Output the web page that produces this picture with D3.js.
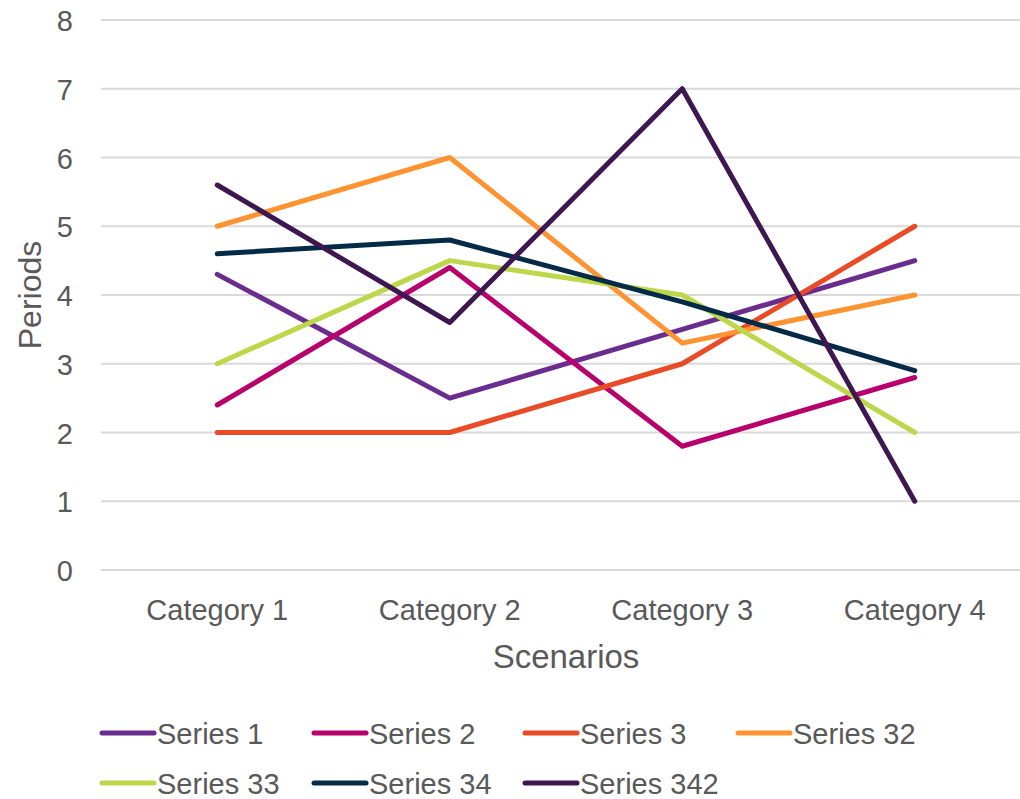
<!DOCTYPE html>
<html>
<head>
<meta charset="utf-8">
<script src="https://cdn.jsdelivr.net/npm/d3@7"></script>
<style>
  body { margin: 0; background: #fff; }
  text { font-family: "Liberation Sans", Arial, sans-serif; fill: #595959; }
</style>
</head>
<body>
<div id="viz-container"></div>
<script>
let width = 1020;
let height = 799;

let categories = ['Category 1', 'Category 2', 'Category 3', 'Category 4'];
let seriesNames = ['Series 1', 'Series 2', 'Series 3', 'Series 32', 'Series 33', 'Series 34', 'Series 342'];
let seriesColors = ['#6A2C8E', '#B8006D', '#E94B26', '#FF9331', '#BDD74B', '#032B47', '#3D1750'];
let s1 = [4.3, 2.5, 3.5, 4.5];
let s2 = [2.4, 4.4, 1.8, 2.8];
let s3 = [2, 2, 3, 5];
let s32 = [5, 6, 3.3, 4];
let s33 = [3, 4.5, 4, 2];
let s34 = [4.6, 4.8, 3.9, 2.9];
let s342 = [5.6, 3.6, 7, 1];
let yTicks = [0, 1, 2, 3, 4, 5, 6, 7, 8];

let seriesValues = [s1, s2, s3, s32, s33, s34, s342];

let viz = d3.select('#viz-container')
  .append('svg')
  .attr('width', width)
  .attr('height', height);

let xScale = d3.scaleBand().domain(categories).range([101, 1031]);
let yScale = d3.scaleLinear().domain([0, 8]).range([570, 20]);

// gridlines
viz.selectAll('.grid').data(yTicks).enter()
  .append('line')
  .attr('x1', 101)
  .attr('x2', 1031)
  .attr('y1', d => yScale(d))
  .attr('y2', d => yScale(d))
  .attr('stroke', '#d9d9d9')
  .attr('stroke-width', 2);

// y tick labels
viz.selectAll('.ytick').data(yTicks).enter()
  .append('text')
  .text(d => d)
  .attr('x', 73)
  .attr('y', d => yScale(d) + 11)
  .attr('text-anchor', 'end')
  .attr('font-size', 29);

// x tick labels
viz.selectAll('.xtick').data(categories).enter()
  .append('text')
  .text(d => d)
  .attr('x', d => xScale(d) + xScale.bandwidth() / 2)
  .attr('y', 620)
  .attr('text-anchor', 'middle')
  .attr('font-size', 29);

// axis titles
viz.append('text')
  .text('Scenarios')
  .attr('x', 566)
  .attr('y', 668)
  .attr('text-anchor', 'middle')
  .attr('font-size', 33);

viz.append('text')
  .text('Periods')
  .attr('transform', 'translate(41,295) rotate(-90)')
  .attr('text-anchor', 'middle')
  .attr('font-size', 32);

let line = d3.line()
  .x((d, i) => xScale(categories[i]) + xScale.bandwidth() / 2)
  .y(d => yScale(d));

viz.selectAll('.series').data(seriesValues).enter()
  .append('path')
  .attr('class', 'series')
  .attr('d', line)
  .attr('fill', 'none')
  .attr('stroke', (d, i) => seriesColors[i])
  .attr('stroke-width', 5)
  .attr('stroke-linecap', 'round')
  .attr('stroke-linejoin', 'round');

// legend
let legendX = [100, 312, 523, 736];
let legendY = [733, 783];
let legend = viz.selectAll('.legend').data(seriesNames).enter()
  .append('g')
  .attr('class', 'legend')
  .attr('transform', (d, i) => 'translate(' + legendX[i % 4] + ',' + legendY[Math.floor(i / 4)] + ')');

legend.append('line')
  .attr('x1', 2)
  .attr('x2', 54)
  .attr('y1', 0)
  .attr('y2', 0)
  .attr('stroke', (d, i) => seriesColors[i])
  .attr('stroke-width', 5)
  .attr('stroke-linecap', 'round');

legend.append('text')
  .text(d => d)
  .attr('x', 57)
  .attr('y', 11)
  .attr('font-size', 29);
</script>
</body>
</html>
